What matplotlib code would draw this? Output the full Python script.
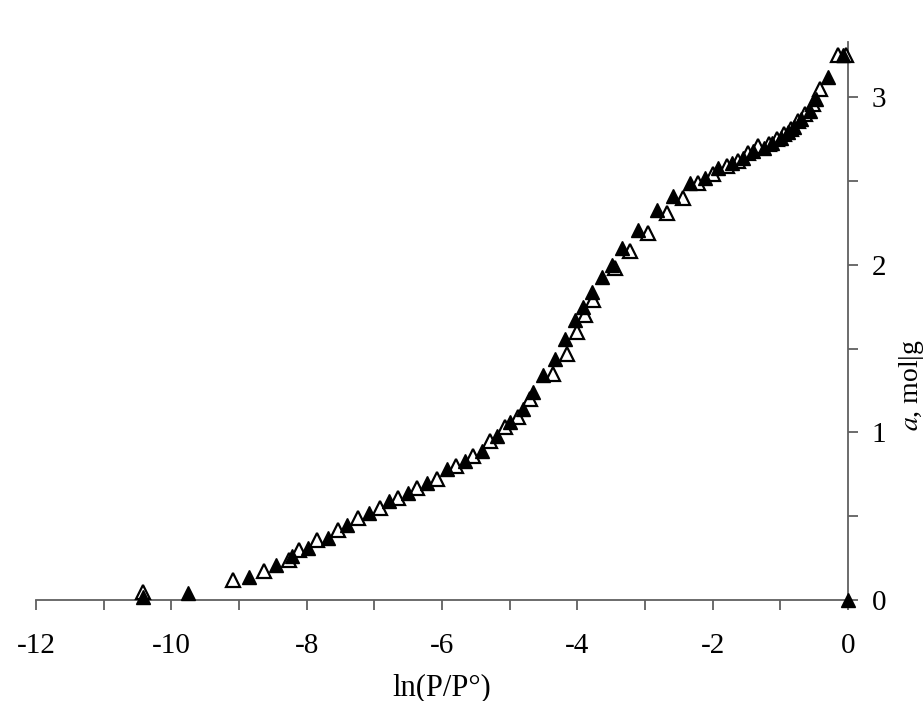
import numpy as np
import matplotlib
matplotlib.use('Agg')
import matplotlib.pyplot as plt
from matplotlib.ticker import MultipleLocator

plt.rcParams['font.family'] = ['Liberation Serif', 'DejaVu Serif']
plt.rcParams['mathtext.fontset'] = 'stix'
plt.rcParams['axes.unicode_minus'] = False

# filled triangles
x_filled = [-10.42, -9.75, -8.85, -8.45, -8.22, -7.98, -7.68, -7.40, -7.08, -6.78,
            -6.50, -6.22, -5.93, -5.66, -5.41, -5.19, -4.99, -4.80, -4.66, -4.51,
            -4.33, -4.18, -4.03, -3.92, -3.78, -3.64, -3.49, -3.34, -3.10, -2.82,
            -2.59, -2.33, -2.11, -1.92, -1.71, -1.55, -1.40, -1.24, -1.12, -0.99,
            -0.89, -0.80, -0.69, -0.56, -0.47, -0.30, -0.08, 0.0]
a_filled = [0.02, 0.04, 0.14, 0.21, 0.26, 0.31, 0.37, 0.45, 0.52, 0.59,
            0.64, 0.70, 0.78, 0.83, 0.89, 0.98, 1.06, 1.14, 1.24, 1.34,
            1.44, 1.56, 1.67, 1.75, 1.84, 1.93, 2.00, 2.10, 2.21, 2.33,
            2.41, 2.49, 2.52, 2.58, 2.61, 2.64, 2.68, 2.70, 2.73, 2.76,
            2.79, 2.82, 2.87, 2.92, 2.99, 3.12, 3.25, 0.0]

# open triangles
x_open = [-10.42, -9.09, -8.63, -8.26, -8.11, -7.85, -7.54, -7.24, -6.92, -6.65,
          -6.37, -6.07, -5.79, -5.54, -5.29, -5.07, -4.88, -4.70, -4.36, -4.15,
          -4.00, -3.89, -3.77, -3.44, -3.22, -2.96, -2.67, -2.44, -2.22, -1.99,
          -1.79, -1.63, -1.48, -1.33, -1.17, -1.05, -0.95, -0.84, -0.74, -0.64,
          -0.52, -0.41, -0.15, -0.03]
a_open = [0.05, 0.12, 0.17, 0.24, 0.30, 0.36, 0.42, 0.49, 0.55, 0.61,
          0.67, 0.72, 0.80, 0.86, 0.95, 1.03, 1.09, 1.20, 1.35, 1.47,
          1.60, 1.70, 1.79, 1.98, 2.08, 2.19, 2.31, 2.40, 2.49, 2.54,
          2.59, 2.62, 2.67, 2.71, 2.72, 2.75, 2.78, 2.81, 2.86, 2.90,
          2.96, 3.05, 3.25, 3.25]

fig = plt.figure(figsize=(9.24, 7.01), dpi=100)
ax = fig.add_axes([0.039, 0.1441, 0.8787, 0.796])

ax.plot(x_open, a_open, linestyle='none', marker='^', markersize=9.5,
        markerfacecolor='white', markeredgecolor='black', markeredgewidth=1.6,
        clip_on=False, zorder=3)
ax.plot(x_filled, a_filled, linestyle='none', marker='^', markersize=9.5,
        markerfacecolor='black', markeredgecolor='black', markeredgewidth=1.0,
        clip_on=False, zorder=4)

ax.set_xlim(-12, 0)
ax.set_ylim(0, 3.33)

ax.spines['left'].set_visible(False)
ax.spines['top'].set_visible(False)
for s in ['bottom', 'right']:
    ax.spines[s].set_color('#606060')
    ax.spines[s].set_linewidth(1.3)

ax.xaxis.set_major_locator(MultipleLocator(2))
ax.xaxis.set_minor_locator(MultipleLocator(1))
ax.yaxis.set_major_locator(MultipleLocator(1))
ax.yaxis.set_minor_locator(MultipleLocator(0.5))
ax.yaxis.tick_right()

ax.tick_params(which='both', direction='out', length=7, width=1.3,
               color='#606060', labelsize=21, labelcolor='black')
ax.tick_params(axis='x', pad=17)
ax.tick_params(axis='y', pad=10)

ax.set_xlabel('ln(P/P°)', fontsize=22, labelpad=10)

# y axis title sits at the far right edge
fig.text(911 / 924, 1 - 385 / 701, r'$\mathit{a}$, mol|g', fontsize=20,
         rotation=90, ha='center', va='center')

fig.savefig('out.png', dpi=100)
